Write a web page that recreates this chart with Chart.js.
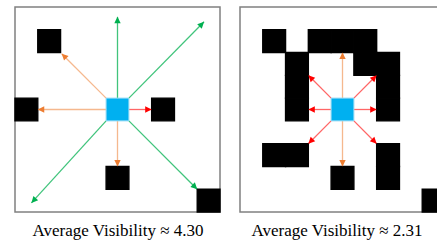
<!DOCTYPE html>
<html>
<head>
<meta charset="utf-8">
<script src="https://cdn.jsdelivr.net/npm/chart.js@4"></script>
<style>
    html, body { margin: 0; padding: 0; width: 437px; height: 242px; overflow: hidden; background: #fff; }
    .panel { position: absolute; top: 5px; width: 209px; height: 209px; }
    .caption { position: absolute; top: 222px; width: 230px; text-align: center;
        font-family: "Liberation Serif", "Times New Roman", serif; font-size: 17px; line-height: 17px; color: #000; }
</style>
</head>
<body>
<div class="panel" style="left:13px"><canvas id="leftGrid" width="209" height="209"></canvas></div>
<div class="panel" style="left:238px"><canvas id="rightGrid" width="209" height="209"></canvas></div>
<div class="caption" style="left:3px" id="leftCaption"></div>
<div class="caption" style="left:222px" id="rightCaption"></div>
<script>
// grid is 9 x 9 cells, column/row counted from the top-left corner
const gridSize = 9;
const visibility = [4.30, 2.31];

// agent cell [col, row]
const leftAgent = [[4, 4]];
const rightAgent = [[4, 4]];

// obstacle cells [col, row]
const leftWalls = [[1, 1], [0, 4], [6, 4], [4, 7], [8, 8]];
const rightWalls = [
    [1, 1], [3, 1], [4, 1], [5, 1],
    [2, 2], [5, 2], [6, 2],
    [2, 3], [6, 3],
    [2, 4], [6, 4],
    [1, 6], [2, 6], [6, 6],
    [4, 7], [6, 7],
    [8, 8]
];

// rays [x0, y0, x1, y1, reach] in grid units
const leftRays = [
    [4.5, 4, 4.5, 0.43, 'far'],
    [5, 4, 8.3, 0.65, 'far'],
    [4, 4, 2.05, 2.05, 'mid'],
    [4, 4.5, 1, 4.5, 'mid'],
    [5, 4.5, 6, 4.5, 'near'],
    [4.5, 5, 4.5, 7, 'mid'],
    [4, 5, 0.72, 8.6, 'far'],
    [5, 5, 8, 8, 'far']
];
const rightRays = [
    [4.5, 4, 4.5, 2, 'mid'],
    [4.5, 5, 4.5, 7, 'mid'],
    [4, 4.5, 3, 4.5, 'near'],
    [5, 4.5, 6, 4.5, 'near'],
    [4, 4, 3, 3, 'near'],
    [5, 4, 6, 3, 'near'],
    [4, 5, 3, 6, 'near'],
    [5, 5, 6, 6, 'near']
];

const lineColors = { far: 'rgba(0,176,80,0.75)', mid: 'rgba(237,125,49,0.55)', near: 'rgba(255,0,0,0.6)' };
const headColors = { far: '#00b050', mid: '#ed7d31', near: '#ff0000' };

function cellRadius(ctx) {
    const s = ctx.chart.scales.x;
    const side = Math.abs(s.getPixelForValue(1) - s.getPixelForValue(0));
    return side / 2 / Math.SQRT1_2;
}

function cellData(cells) {
    return cells.map(c => ({ x: c[0] + 0.5, y: c[1] + 0.5 }));
}

// frame around the grid
const framePlugin = {
    id: 'frame',
    beforeDatasetsDraw(chart) {
        const a = chart.chartArea;
        const c = chart.ctx;
        c.save();
        c.strokeStyle = '#808080';
        c.lineWidth = 1.5;
        c.strokeRect(a.left, a.top, a.right - a.left, a.bottom - a.top);
        c.restore();
    }
};

// arrow heads at the end of each ray
const arrowPlugin = {
    id: 'arrows',
    afterDatasetsDraw(chart) {
        const c = chart.ctx;
        chart.data.datasets.forEach((ds, i) => {
            if (!ds.reach) return;
            const pts = chart.getDatasetMeta(i).data;
            const p0 = pts[0], p1 = pts[1];
            const ang = Math.atan2(p1.y - p0.y, p1.x - p0.x);
            const len = 6.5, half = 3.2;
            c.save();
            c.fillStyle = headColors[ds.reach];
            c.translate(p1.x, p1.y);
            c.rotate(ang);
            c.beginPath();
            c.moveTo(0, 0);
            c.lineTo(-len, -half);
            c.lineTo(-len, half);
            c.closePath();
            c.fill();
            c.restore();
        });
    }
};

function buildChart(id, agent, walls, rays) {
    const datasets = [
        {
            data: cellData(agent),
            pointStyle: 'rect',
            pointRadius: cellRadius,
            backgroundColor: '#00b0f0',
            borderColor: '#8fd8f5',
            borderWidth: 1,
            clip: false
        },
        {
            data: cellData(walls),
            pointStyle: 'rect',
            pointRadius: cellRadius,
            backgroundColor: '#000000',
            borderColor: '#000000',
            borderWidth: 1.4,
            clip: false
        }
    ];
    rays.forEach(r => {
        datasets.push({
            data: [{ x: r[0], y: r[1] }, { x: r[2], y: r[3] }],
            reach: r[4],
            showLine: true,
            borderColor: lineColors[r[4]],
            borderWidth: 1.3,
            pointRadius: 0,
            clip: false
        });
    });

    new Chart(document.getElementById(id), {
        type: 'scatter',
        data: { datasets: datasets },
        options: {
            responsive: false,
            animation: false,
            devicePixelRatio: 1,
            events: [],
            layout: { padding: 2 },
            plugins: { legend: { display: false }, tooltip: { enabled: false } },
            scales: {
                x: { type: 'linear', min: 0, max: gridSize, display: false },
                y: { type: 'linear', min: 0, max: gridSize, reverse: true, display: false }
            }
        },
        plugins: [framePlugin, arrowPlugin]
    });
}

buildChart('leftGrid', leftAgent, leftWalls, leftRays);
buildChart('rightGrid', rightAgent, rightWalls, rightRays);

document.getElementById('leftCaption').textContent = `Average Visibility \u2248 ${visibility[0].toFixed(2)}`;
document.getElementById('rightCaption').textContent = `Average Visibility \u2248 ${visibility[1].toFixed(2)}`;
</script>
</body>
</html>
